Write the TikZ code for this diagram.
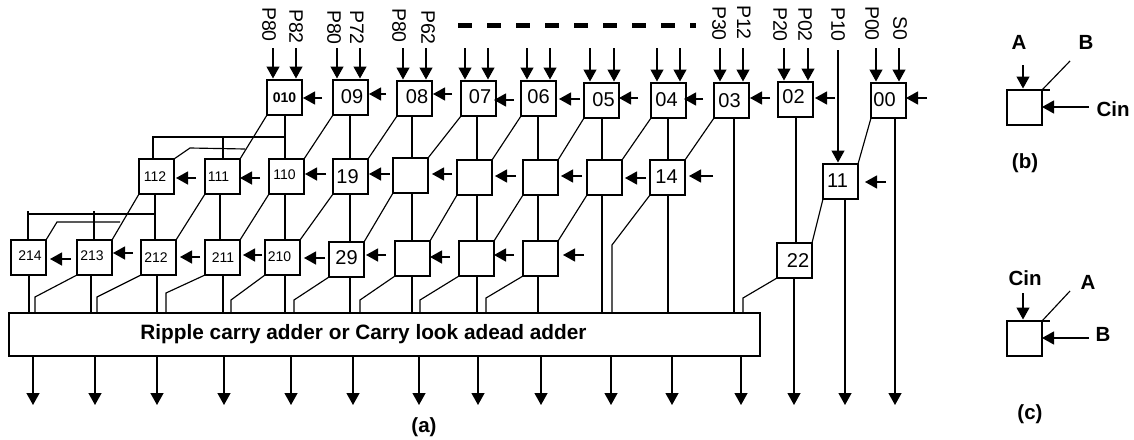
\documentclass[tikz,border=0pt]{standalone}
\usepackage{fontspec}
\setmainfont{Liberation Sans}
\usetikzlibrary{arrows.meta}
\tikzset{
  wire/.style={line width=1.3pt,line cap=butt,line join=miter},
  thinwire/.style={line width=1.15pt,line cap=butt,line join=miter},
  arr/.style={wire,-{Triangle[length=12pt,width=13pt]}},
  bx/.style={draw,line width=1.3pt,rectangle,anchor=north west,minimum width=35pt,minimum height=35pt,inner sep=0pt,outer sep=0pt},
  dbig/.style={font=\fontsize{20}{20}\selectfont},
  dsmall/.style={font=\fontsize{14}{14}\selectfont},
  plabel/.style={rotate=-90,anchor=east,inner sep=0pt,font=\fontsize{19.5}{20}\selectfont},
  blabel/.style={inner sep=0pt,font=\bfseries\fontsize{20.5}{21}\selectfont},
}
\begin{document}
\begin{tikzpicture}[x=1pt,y=-1pt]
\useasboundingbox (0,0) rectangle (1134,439);
\fill[white] (0,0) rectangle (1134,439);
% boxes
\foreach \n/\l/\t/\s/\f/\dx/\dy in {
 a/267/80/\textbf{010}/dsmall/0/-5, b/333/80/09/dbig/1.5/1, c/397/81/08/dbig/2.5/4, d/461/81/07/dbig/1.5/4,
 e/521/81/06/dbig/0/4, f/584/83/05/dbig/2/2.5, g/651/83/04/dbig/-2/1, h/714/83/03/dbig/-2/-2,
 i/778/82/02/dbig/-2/6, j/871/83/00/dbig/-4/1,
 ma/139/159/112/dsmall/-1.5/0, mb/205/159/111/dsmall/-4/0, mc/269/159/110/dsmall/-2/3, md/333/159/19/dbig/-3/-1,
 me/393/158//dbig/0/0, mf/457/160//dbig/0/0, mg/523/160//dbig/0/0, mh/587/160//dbig/0/0,
 mi/650/160/14/dbig/-1/2, mj/823/164/11/dbig/-3/1,
 la/11/240/214/dsmall/1.5/4, lb/77/240/213/dsmall/-2.5/3, lc/141/240/212/dsmall/-2.5/0, ld/205/240/211/dsmall/0.5/0,
 le/265/240/210/dsmall/-3/2, lf/329/242/29/dbig/0/3, lg/395/241//dbig/0/0, lh/459/241//dbig/0/0,
 li/523/241//dbig/0/0, lj/777/243/22/dbig/3.5/0,
 ib/1007/90//dbig/0/0, ic/1007/321//dbig/0/0}
 {\node[bx,\f] (\n) at (\l,\t) {\kern\dx pt\raisebox{\dy pt}{\s}\kern-\dx pt};}
% adder
\node[draw,line width=1.3pt,rectangle,minimum width=751pt,minimum height=43pt,inner sep=0pt,outer sep=0pt,
  font=\bfseries\fontsize{20.8}{21}\selectfont] (add) at (384.5,334.5)
  {\hspace*{-42pt}Ripple carry adder or Carry look adead adder};
% top inputs
\foreach \n/\x in {
 a/273, a/296, b/337, b/360, c/403, c/426,
 d/465, d/488, e/527, e/550, f/590, f/614, g/657, g/680,
 h/720, h/743, i/784, i/808, j/876, j/899}
 {\coordinate (top) at (\x,48); \draw[arr,shorten >=1.5pt] (top) -- (\n.north -| top);}
% labels above inputs
\foreach \nm/\x/\s/\y in {
 pa/269/P80/42, pb/296/P82/44, pc/334/P80/45, pd/357/P72/45, pe/399/P80/43, pf/428/P62/45,
 pg/719/P30/41, ph/744/P12/40, pi/780/P20/42, pj/805/P02/42, pk/838/P10/42, pl/872/P00/41, pm/900/S0/41}
 {\node[plabel] (\nm) at (\x,\y) {\s};}
\coordinate (pt) at (838,50);
\draw[arr,shorten >=1.5pt] (pt) -- (mj.north -| pt);
% dashed bar
\coordinate (da) at (458,25); \coordinate (db) at (696,25);
\draw[line width=5pt,dash pattern=on 14pt off 15pt] (da) -- (db);
% carry arrows
\foreach \n/\tip/\tail/\y in {
 a/303/322/98, b/369/386/94, c/433/452/94, d/494/514/100, e/559/580/99, f/619/638/98, g/684/703/99,
 h/750/770/98, i/815/835/98, j/906/927/98,
 ma/176/196/178, mb/240/260/178, mc/305/326/174, md/369/390/174, me/432/452/174, mf/495/516/176,
 mg/561/582/176, mh/625/646/178, mi/689/713/176, mj/865/886/182,
 la/50/71/259, lb/113/133/253, lc/180/200/257, ld/243/262/255, le/304/325/258, lf/366/386/255,
 lg/430/450/257, lh/494/514/255, li/563/584/255,
 ib/1042/1089/107, ic/1042/1089/338}
 {\coordinate (t) at (\tail,\y); \coordinate (p) at (\tip,\y); \draw[arr] (t) -- (p);}
% vertical box to box
\foreach \a/\b/\x in {
 b/md/350, c/me/412, d/mf/477, e/mg/538, f/mh/602, g/mi/668,
 mb/ld/220, mc/le/285, md/lf/350, me/lg/412, mf/lh/477, mg/li/538, i/lj/796}
 {\coordinate (v) at (\x,0); \draw[wire] (\a.south -| v) -- (\b.north -| v);}
% diagonals box to box
\foreach \a/\b in {b/mc, c/md, d/me, e/mf, f/mg, g/mh, h/mi, j/mj, mb/lc, mc/ld, md/le, me/lf, mf/lg, mg/lh, mh/li, mj/lj}
 {\draw[thinwire] (\a.south west) -- (\b.north east);}
% top row bus
\coordinate (v) at (285,0);
\draw[wire] (a.south -| v) -- (mc.north -| v);
\coordinate (busa) at (285,137);
\coordinate (ba) at (153,0); \coordinate (bb) at (223,0);
\draw[wire] (ma.north -| ba) -- (busa -| ba) -- (busa);
\draw[wire] (mb.north -| bb) -- (busa -| bb);
\draw[thinwire] (a.south west) -- (mb.north east);
\coordinate (k1) at (245,149); \coordinate (k2) at (190,148);
\draw[thinwire] (k1) -- (k2) -- (ma.north east);
% middle row bus
\coordinate (v) at (155,0);
\draw[wire] (ma.south -| v) -- (lc.north -| v);
\coordinate (busb) at (155,214);
\coordinate (bc) at (28,211); \coordinate (bd) at (94,211);
\draw[wire] (busb) -- (busb -| bc);
\draw[wire] (bc) -- (la.north -| bc);
\draw[wire] (bd) -- (lb.north -| bd);
\draw[thinwire] (ma.south west) -- (lb.north east);
\coordinate (k3) at (120,222); \coordinate (k4) at (57,222);
\draw[thinwire] (k3) -- (k4) -- (la.north east);
% into the adder: verticals
\foreach \a/\x in {la/29, lb/91, lc/157, ld/223, le/285, lf/350, lg/412, lh/477, li/538, mh/602, mi/668, h/734}
 {\coordinate (v) at (\x,0); \draw[wire] (\a.south -| v) -- (add.north -| v);}
% into the adder: bent lines
\foreach \a/\x/\y in {lb/35/297, lc/97/297, ld/166/293, le/231/300, lf/294/300, lg/360/300, lh/420/300, li/486/298, lj/743/298, mi/612/245}
 {\coordinate (k) at (\x,\y); \draw[thinwire] (\a.south west) -- (k) -- (add.north -| k);}
% outputs
\foreach \x in {33,95,157,224,291,353,419,478,541,611,672,741}
 {\coordinate (o) at (\x,405); \draw[arr] (add.south -| o) -- (o);}
\foreach \a/\x in {lj/794, mj/845, j/895}
 {\coordinate (o) at (\x,405); \draw[arr] (\a.south -| o) -- (o);}
% insets
\coordinate (ia) at (1023,65); \draw[arr,shorten >=1.5pt] (ia) -- (ib.north -| ia);
\coordinate (ja) at (1070,61); \draw[thinwire] (ja) -- (ib.north east);
\coordinate (jb) at (1050,90); \draw[wire] (ib.north east) -- (jb);
\coordinate (ka) at (1023,293); \draw[arr,shorten >=1.5pt] (ka) -- (ic.north -| ka);
\coordinate (la2) at (1070,291); \draw[thinwire] (la2) -- (ic.north east);
\coordinate (lb2) at (1050,321); \draw[wire] (ic.north east) -- (lb2);
\node[blabel] (ta) at (1019,42) {A};
\node[blabel] (tb) at (1086,42) {B};
\node[blabel] (tc) at (1113,109) {Cin};
\node[blabel] (td) at (1025,163) {(b)};
\node[blabel] (te) at (1025,278) {Cin};
\node[blabel] (tf) at (1088,282) {A};
\node[blabel] (tg) at (1103,334) {B};
\node[blabel] (th) at (1030,414) {(c)};
\node[blabel] (ti) at (424,427) {(a)};
\end{tikzpicture}
\end{document}
